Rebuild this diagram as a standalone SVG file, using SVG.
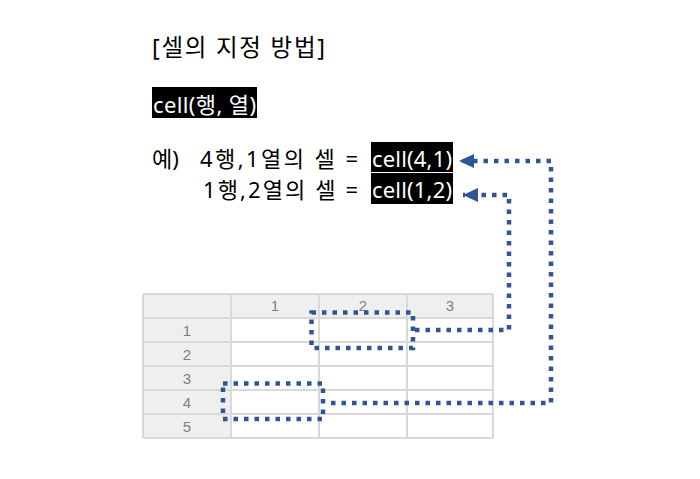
<svg xmlns="http://www.w3.org/2000/svg" width="700" height="479" viewBox="0 0 700 479">
<style>
.t{font-family:"Noto Sans","Noto Sans CJK KR","Liberation Sans",sans-serif;font-size:22px;fill:#000}
.big{font-size:23.5px}
.w{fill:#fff}
.hl{fill:#000}
.g{font-family:"Liberation Sans",Arial,sans-serif;font-size:15px;fill:#7f7f7f;text-anchor:middle}
.gl{stroke:#d9d9d9;stroke-width:2;fill:none}
.dot{fill:none;stroke:#2F5597;stroke-width:4.5;stroke-dasharray:4.5 6}
</style>
<defs>
<marker id="ah" markerUnits="userSpaceOnUse" markerWidth="16" markerHeight="16" refX="15" refY="8" orient="auto" viewBox="0 0 16 16">
<path d="M0,1 L15,8 L0,15 Z" fill="#2F5597"/>
</marker>
</defs>
<rect width="700" height="479" fill="#fff"/>

<g id="title">
<text class="t big" x="152" y="56" textLength="173" lengthAdjust="spacing">[셀의 지정 방법]</text>
</g>

<g id="syntax">
<rect class="hl" x="152" y="87" width="105" height="31"/>
<text class="t w" x="153" y="112.5" textLength="103" lengthAdjust="spacing">cell(행, 열)</text>
</g>

<g id="example">
<text class="t" x="152" y="166.5">예)</text>
<text class="t" x="200" y="166.5" textLength="158" lengthAdjust="spacing">4행,1열의 셀 =</text>
<rect class="hl" x="371" y="142" width="82" height="30"/>
<text class="t w" x="372" y="166.5" textLength="80" lengthAdjust="spacing">cell(4,1)</text>
<text class="t" x="203" y="197.5" textLength="155" lengthAdjust="spacing">1행,2열의 셀 =</text>
<rect class="hl" x="371" y="173" width="82" height="31"/>
<text class="t w" x="372" y="197.5" textLength="80" lengthAdjust="spacing">cell(1,2)</text>
</g>

<g id="grid">
<rect x="143" y="294" width="350" height="144" fill="#fff"/>
<rect x="143" y="294" width="350" height="24" fill="#efefef"/>
<rect x="143" y="318" width="88" height="120" fill="#efefef"/>
<path class="gl" d="M143,294V438M231,294V438M319,294V438M407,294V438M493,294V438M143,294H493M143,318H493M143,342H493M143,366H493M143,390H493M143,414H493M143,438H493"/>
<text class="g" x="275" y="311">1</text>
<text class="g" x="363" y="311">2</text>
<text class="g" x="450" y="311">3</text>
<text class="g" x="187" y="335.5">1</text>
<text class="g" x="187" y="359.5">2</text>
<text class="g" x="187" y="383.5">3</text>
<text class="g" x="187" y="407.5">4</text>
<text class="g" x="187" y="431.5">5</text>
</g>

<g id="sel12">
<rect class="dot" x="311.5" y="312.5" width="101.5" height="35.5"/>
</g>
<g id="sel41">
<rect class="dot" x="223" y="383.5" width="100" height="35.5"/>
</g>

<g id="connectors">
<path class="dot" d="M415,330H509V195H463" marker-end="url(#ah)"/>
<path class="dot" d="M331,403H551V161H459" marker-end="url(#ah)"/>
</g>
</svg>
